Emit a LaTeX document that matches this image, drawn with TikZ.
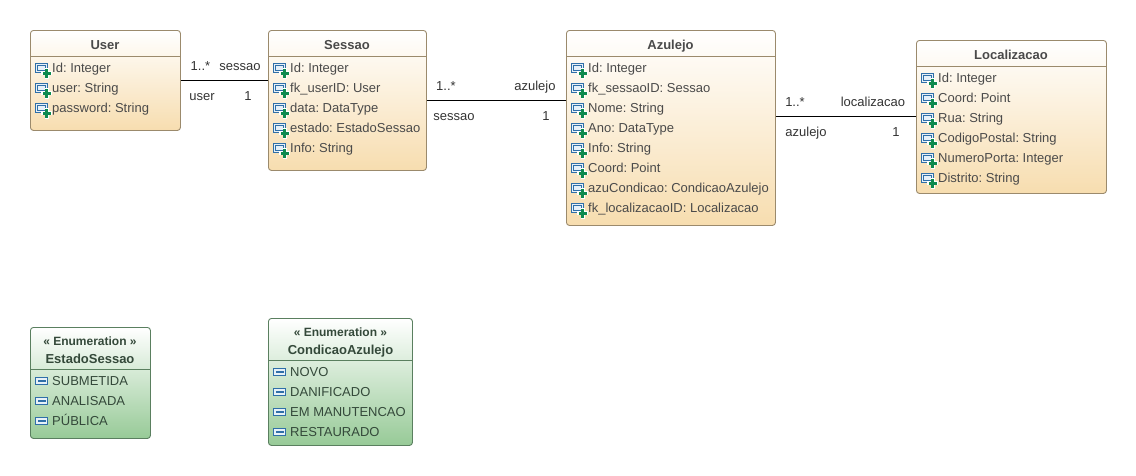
\documentclass[tikz,border=0pt]{standalone}
\usepackage{fontspec}
\setmainfont{Liberation Sans}
\definecolor{cborder}{HTML}{9B8A6C}
\definecolor{ctop}{HTML}{FFFFFF}
\definecolor{cbot}{HTML}{F7DDAF}
\definecolor{gborder}{HTML}{5A7F5F}
\definecolor{gbot}{HTML}{97CA97}
\definecolor{ctext}{HTML}{4A4A4A}
\definecolor{gtext}{HTML}{34493A}
\definecolor{iblue}{HTML}{2F6FA8}
\definecolor{ifill}{HTML}{E6F0F8}
\definecolor{igreen}{HTML}{0E8A4F}
\tikzset{
  x=1pt,y=-1pt,
  classbox/.style={draw=cborder,line width=0.9pt,rounded corners=3pt,top color=ctop,bottom color=cbot,minimum width=#1,inner sep=0pt,anchor=north west},
  enumbox/.style={draw=gborder,line width=0.9pt,rounded corners=3pt,top color=ctop,bottom color=gbot,minimum width=#1,inner sep=0pt,anchor=north west},
  title/.style={font=\fontsize{13}{15}\selectfont\bfseries,text=ctext,anchor=base,inner sep=0pt},
  etitle/.style={font=\fontsize{13}{15}\selectfont\bfseries,text=gtext,anchor=base,inner sep=0pt},
  rowtext/.style={font=\fontsize{13}{15}\selectfont\frenchspacing,text=ctext,anchor=base west,inner sep=0pt},
  erowtext/.style={font=\fontsize{13}{15}\selectfont,text=gtext,anchor=base west,inner sep=0pt},
  rolelabel/.style={font=\fontsize{13}{15}\selectfont,text=black!80,anchor=base,inner sep=0pt},
  assoc/.style={draw=black,line width=1pt},
}
% attribute icon: #1 left, #2 row centre
\newcommand{\attricon}[2]{%
  \fill[ifill,draw=iblue,line width=1pt] (#1-0.5,#2-4.5) rectangle (#1+11.5,#2+4.5);
  \draw[iblue,line width=0.7pt] (#1+1.5,#2-2.5) rectangle (#1+9.5,#2+2.5);
  \fill[white] (#1+10.7-1.9,#2+5.3-5.3) rectangle (#1+10.7+1.9,#2+5.3+5.3);
  \fill[white] (#1+10.7-5.3,#2+5.3-1.9) rectangle (#1+10.7+5.3,#2+5.3+1.9);
  \fill[igreen] (#1+10.7-1.3,#2+5.3-4.2) rectangle (#1+10.7+1.3,#2+5.3+4.2);
  \fill[igreen] (#1+10.7-4.2,#2+5.3-1.3) rectangle (#1+10.7+4.2,#2+5.3+1.3);
}
\newcommand{\liticon}[2]{%
  \fill[ifill,draw=iblue,line width=1pt] (#1-0.5,#2-3.5) rectangle (#1+11.5,#2+3.5);
  \fill[iblue] (#1+1.5,#2-0.8) rectangle (#1+9.5,#2+1.2);
}
\begin{document}
\begin{tikzpicture}
\useasboundingbox (0,0) rectangle (1136,475);
% class boxes
\node[classbox=150pt,minimum height=100pt] (user) at (30,30) {};
\node[classbox=158pt,minimum height=140pt] (sessao) at (268,30) {};
\node[classbox=209pt,minimum height=195pt] (azulejo) at (566,30) {};
\node[classbox=190pt,minimum height=153pt] (localizacao) at (916,40) {};
\node[enumbox=120pt,minimum height=111pt] (estado) at (30,327) {};
\node[enumbox=144pt,minimum height=127pt] (condicao) at (268,318) {};
% header separators
\draw[cborder,line width=0.9pt] (user.west |- 0,56) -- (user.east |- 0,56);
\draw[cborder,line width=0.9pt] (sessao.west |- 0,56) -- (sessao.east |- 0,56);
\draw[cborder,line width=0.9pt] (azulejo.west |- 0,56) -- (azulejo.east |- 0,56);
\draw[cborder,line width=0.9pt] (localizacao.west |- 0,66) -- (localizacao.east |- 0,66);
\draw[gborder,line width=0.9pt] (estado.west |- 0,369) -- (estado.east |- 0,369);
\draw[gborder,line width=0.9pt] (condicao.west |- 0,360) -- (condicao.east |- 0,360);
% titles
\node[title] (t1) at (105,49) {User};
\node[title] (t2) at (347,49) {Sessao};
\node[title] (t3) at (670.5,49) {Azulejo};
\node[title] (t4) at (1011,59) {Localizacao};
\node[etitle,font=\fontsize{12}{14}\selectfont\bfseries] (t5a) at (90,345) {« Enumeration »};
\node[etitle] (t5b) at (90,363) {EstadoSessao};
\node[etitle,font=\fontsize{12}{14}\selectfont\bfseries] (t6a) at (340.5,336) {« Enumeration »};
\node[etitle] (t6b) at (340.5,354) {CondicaoAzulejo};
% attributes
\foreach \i/\t in {0/{Id: Integer},1/{user: String},2/{password: String}}{
  \attricon{36}{68+20*\i}
  \node[rowtext] at (52,72.5+20*\i) {\t};
}
\foreach \i/\t in {0/{Id: Integer},1/{fk\_userID: User},2/{data: DataType},3/{estado: EstadoSessao},4/{Info: String}}{
  \attricon{274}{68+20*\i}
  \node[rowtext] at (290,72.5+20*\i) {\t};
}
\foreach \i/\t in {0/{Id: Integer},1/{fk\_sessaoID: Sessao},2/{Nome: String},3/{Ano: DataType},4/{Info: String},5/{Coord: Point},6/{azuCondicao: CondicaoAzulejo},7/{fk\_localizacaoID: Localizacao}}{
  \attricon{572}{68+20*\i}
  \node[rowtext] at (588,72.5+20*\i) {\t};
}
\foreach \i/\t in {0/{Id: Integer},1/{Coord: Point},2/{Rua: String},3/{CodigoPostal: String},4/{NumeroPorta: Integer},5/{Distrito: String}}{
  \attricon{922}{78+20*\i}
  \node[rowtext] at (938,82.5+20*\i) {\t};
}
\foreach \i/\t in {0/{SUBMETIDA},1/{ANALISADA},2/{PÚBLICA}}{
  \liticon{36}{381+20*\i}
  \node[erowtext] at (52,385.5+20*\i) {\t};
}
\foreach \i/\t in {0/{NOVO},1/{DANIFICADO},2/{EM MANUTENCAO},3/{RESTAURADO}}{
  \liticon{274}{372+20*\i}
  \node[erowtext] at (290,376.5+20*\i) {\t};
}
% connectors
\draw[assoc] (user.east) -- (sessao.west |- user.east);
\draw[assoc] (sessao.east) -- (azulejo.west |- sessao.east);
\draw[assoc] (localizacao.west) -- (azulejo.east |- localizacao.west);
% labels
\node[rolelabel] at (200.5,70) {1..*};
\node[rolelabel] at (240,70) {sessao};
\node[rolelabel] at (202,100.5) {user};
\node[rolelabel] at (248,100.5) {1};
\node[rolelabel] at (446,90) {1..*};
\node[rolelabel] at (535,90) {azulejo};
\node[rolelabel] at (454,120.5) {sessao};
\node[rolelabel] at (546,120.5) {1};
\node[rolelabel] at (795,106) {1..*};
\node[rolelabel] at (873,106) {localizacao};
\node[rolelabel] at (806,136.5) {azulejo};
\node[rolelabel] at (896,136.5) {1};
\end{tikzpicture}
\end{document}
